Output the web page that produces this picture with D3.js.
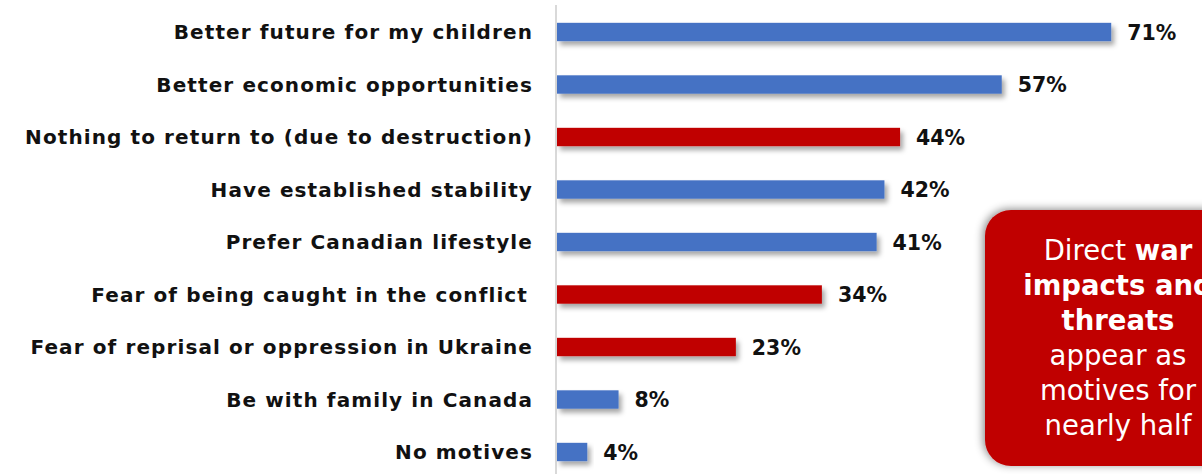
<!DOCTYPE html>
<html>
<head>
<meta charset="utf-8">
<script src="https://cdn.jsdelivr.net/npm/d3@7"></script>
<style>
  html, body { margin: 0; padding: 0; background: #fff; }
  svg { display: block; }
</style>
</head>
<body>
<svg id="chart" width="1202" height="474"></svg>
<script>
// Motives for staying in Canada (share of respondents)
const categories = [
  "Better future for my children",
  "Better economic opportunities",
  "Nothing to return to (due to destruction)",
  "Have established stability",
  "Prefer Canadian lifestyle",
  "Fear of being caught in the conflict",
  "Fear of reprisal or oppression in Ukraine",
  "Be with family in Canada",
  "No motives"
];
const values = [71, 57, 44, 42, 41, 34, 23, 8, 4];
// war-related motives are highlighted in red
const warRelated = [false, false, true, false, false, true, true, false, false];

const calloutLines = [
  [{t: "Direct ", b: false}, {t: "war", b: true}],
  [{t: "impacts and", b: true}],
  [{t: "threats", b: true}],
  [{t: "appear as", b: false}],
  [{t: "motives for", b: false}],
  [{t: "nearly half", b: false}]
];

const BLUE = "#4472C4", RED = "#C00000";
const FONT = "'DejaVu Sans', sans-serif";

const svg = d3.select("#chart");
const defs = svg.append("defs");

defs.append("filter").attr("id", "barShadow")
  .attr("x", "-10%").attr("y", "-50%").attr("width", "130%").attr("height", "250%")
  .append("feDropShadow")
  .attr("dx", 3).attr("dy", 4).attr("stdDeviation", 2.5)
  .attr("flood-color", "#000").attr("flood-opacity", 0.35);

defs.append("filter").attr("id", "boxShadow")
  .attr("x", "-20%").attr("y", "-20%").attr("width", "140%").attr("height", "140%")
  .append("feDropShadow")
  .attr("dx", -2).attr("dy", -1).attr("stdDeviation", 4)
  .attr("flood-color", "#000").attr("flood-opacity", 0.45);

const x = d3.scaleLinear().domain([0, 100]).range([556, 1338]);
const y = d3.scaleBand().domain(categories).range([5.75, 478.25])
  .paddingInner(0.65).paddingOuter(0.325);

// vertical category axis line
svg.append("line")
  .attr("x1", 556).attr("x2", 556).attr("y1", 5).attr("y2", 474)
  .attr("stroke", "#d9d9d9").attr("stroke-width", 2);

// category labels
svg.append("g").selectAll("text").data(categories).join("text")
  .attr("x", (d, i) => i === 5 ? 528 : 533)
  .attr("y", d => y(d) + y.bandwidth() / 2)
  .attr("dy", "0.36em")
  .attr("text-anchor", "end")
  .attr("font-family", FONT).attr("font-weight", "bold").attr("font-size", 20)
  .attr("letter-spacing", 1.1)
  .attr("fill", "#111")
  .text(d => d);

// bars
svg.append("g").selectAll("rect").data(categories).join("rect")
  .attr("x", x(0) + 1)
  .attr("y", d => y(d))
  .attr("width", (d, i) => x(values[i]) - x(0) - 1)
  .attr("height", y.bandwidth())
  .attr("fill", (d, i) => warRelated[i] ? RED : BLUE)
  .attr("filter", "url(#barShadow)");

// value labels
svg.append("g").selectAll("text").data(categories).join("text")
  .attr("x", (d, i) => x(values[i]) + 16)
  .attr("y", d => y(d) + y.bandwidth() / 2)
  .attr("dy", "0.38em")
  .attr("font-family", FONT).attr("font-weight", "bold").attr("font-size", 20.5)
  .attr("fill", "#111")
  .text((d, i) => values[i] + "%");

// callout box
const callout = svg.append("g");
callout.append("rect")
  .attr("x", 985).attr("y", 210).attr("width", 268).attr("height", 256)
  .attr("rx", 26).attr("ry", 26)
  .attr("fill", RED)
  .attr("filter", "url(#boxShadow)");

const ct = callout.append("text")
  .attr("text-anchor", "middle")
  .attr("font-family", FONT).attr("font-size", 27.5)
  .attr("fill", "#fff");
calloutLines.forEach((line, i) => {
  const tl = ct.append("tspan").attr("x", 1118).attr("y", 260 + i * 35);
  line.forEach((seg, j) => {
    (j === 0 ? tl : ct.append("tspan"))
      .attr("font-weight", seg.b ? "bold" : "normal")
      .text(seg.t);
  });
});
</script>
</body>
</html>
